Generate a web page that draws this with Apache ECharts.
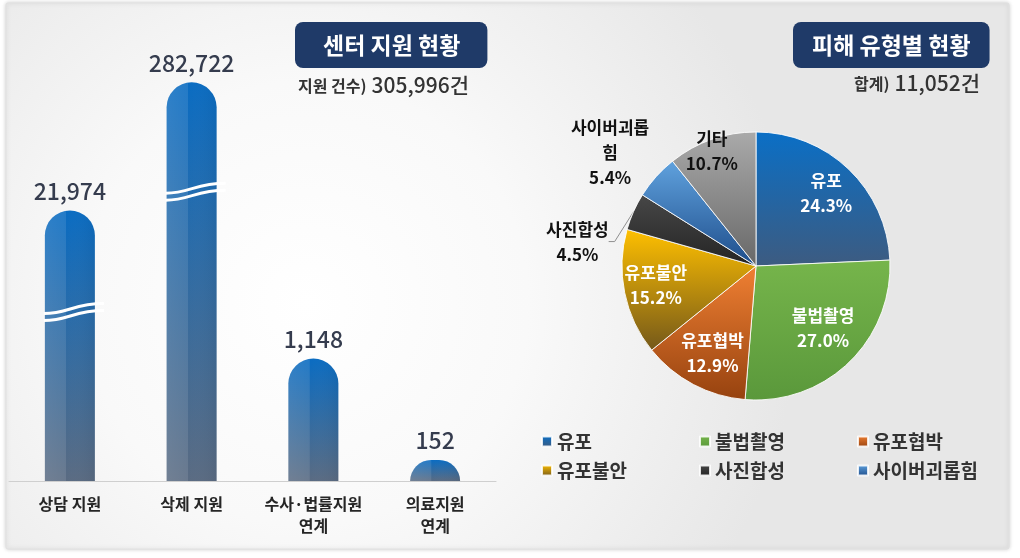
<!DOCTYPE html>
<html><head><meta charset="utf-8">
<script src="https://cdn.jsdelivr.net/npm/echarts@6/dist/echarts.min.js"></script>
<style>html,body{margin:0;padding:0;background:#fff}#c{width:1020px;height:558px}</style>
</head><body><div id="c"></div>
<script>
// ---- data ----
const barCategories = ['상담 지원', '삭제 지원', '수사·법률지원\n연계', '의료지원\n연계'];
const barValues = [21974, 282722, 1148, 152];
const barBreakAt = [2900, 32000, null, null];   // where the axis-break symbol is drawn
const pieNames = ['유포', '불법촬영', '유포협박', '유포불안', '사진합성', '사이버괴롭힘', '기타'];
const pieValues = [24.3, 27.0, 12.9, 15.2, 4.5, 5.4, 10.7];
const legendCols = [['유포', '유포불안'], ['불법촬영', '사진합성'], ['유포협박', '사이버괴롭힘']];
const leftTitle = '센터 지원 현황';
const leftSubLabel = '지원 건수)';
const leftSubValue = '305,996건';
const rightTitle = '피해 유형별 현황';
const rightSubLabel = '합계)';
const rightSubValue = '11,052건';

// ---- styles ----
const FONT = '"Noto Sans CJK KR", "Noto Sans", sans-serif';
const PIE_CX = 756, PIE_CY = 266, PIE_R = 134;
const pieColors = [
  ['#0a6fc6', '#3d5b80'], ['#76b54b', '#5a983b'], ['#f08033', '#96420f'],
  ['#ffc000', '#74581a'], ['#474747', '#242424'], ['#60a2de', '#1d4c8a'], ['#aaaaaa', '#686868']
];
const pieLabelStyle = [
  { position: 'inside', color: '#fff', k: 0.45, dx: 0, dy: 0 },
  { position: 'inside', color: '#fff', k: 0.36, dx: 1, dy: -7 },
  { position: 'inside', color: '#fff', k: 0.45, dx: 4, dy: -3 },
  { position: 'inside', color: '#fff', k: 0.49, dx: 2, dy: -2 },
  { position: 'outside', color: '#111', line: true, wrap: false, dx: -36, dy: 34 },
  { position: 'outside', color: '#111', line: false, wrap: true, dx: -35, dy: -19 },
  { position: 'inside', color: '#111', k: 0.87, dx: -1, dy: 9 }
];
const legendLefts = [541, 699, 857];

function vgrad(a, b) {
  return { type: 'linear', x: 0, y: 0, x2: 0, y2: 1, colorStops: [{ offset: 0, color: a }, { offset: 1, color: b }] };
}

const chart = echarts.init(document.getElementById('c'));

const titleBox = {
  backgroundColor: '#1f3a68', borderRadius: 8,
  textStyle: { color: '#fff', fontSize: 23, fontWeight: 'bold', fontFamily: FONT, lineHeight: 24 }
};
const subRich = {
  a: { fontSize: 16, fontWeight: 'bold', color: '#333', fontFamily: FONT },
  b: { fontSize: 21, fontWeight: 500, color: '#333', fontFamily: FONT }
};

const option = {
  animation: false,
  graphic: [{
    type: 'rect', z: -10, silent: true,
    shape: { x: 6, y: 3, width: 1003, height: 546, r: 2 },
    style: {
      fill: { type: 'radial', x: 0.3, y: 0.55, r: 0.9, colorStops: [
        { offset: 0, color: '#ffffff' }, { offset: 0.45, color: '#f9f9f9' }, { offset: 1, color: '#e7e7e7' }] },
      stroke: '#e0e0e0', lineWidth: 1,
      shadowBlur: 4, shadowColor: 'rgba(0,0,0,0.18)'
    }
  }],
  title: [
    Object.assign({ text: leftTitle, left: 295, top: 22, padding: [11, 27, 11, 28] }, titleBox),
    { text: '{a|' + leftSubLabel + '} {b|' + leftSubValue + '}', left: 298, top: 75, padding: 0, textStyle: { rich: subRich } },
    Object.assign({ text: rightTitle, left: 793, top: 22, padding: [11, 19, 11, 19] }, titleBox),
    { text: '{a|' + rightSubLabel + '} {b|' + rightSubValue + '}', right: 40, top: 73, padding: 0, textStyle: { rich: subRich } }
  ],
  legend: legendCols.map((col, i) => ({
    orient: 'vertical', left: legendLefts[i], top: 432, padding: 0,
    data: col, icon: 'rect', itemWidth: 10, itemHeight: 10, itemGap: 10, selectedMode: false,
    textStyle: { fontSize: 19, fontWeight: 'bold', color: '#333', fontFamily: FONT }
  })),
  grid: { left: 9, right: 524, top: 19, bottom: 77 },
  xAxis: {
    type: 'category', data: barCategories,
    axisLine: { lineStyle: { color: '#cfcfcf', width: 1 } },
    axisTick: { show: false },
    axisLabel: { interval: 0, margin: 12, fontSize: 16, fontWeight: 'bold', color: '#262626', lineHeight: 22, fontFamily: FONT }
  },
  yAxis: {
    type: 'log', logBase: 10, min: 100, max: 1000000, startValue: 100,
    axisLine: { show: false }, axisTick: { show: false }, axisLabel: { show: false }, splitLine: { show: false }
  },
  series: [
    {
      type: 'bar', data: barValues, barWidth: 50, z: 2,
      itemStyle: { color: vgrad('#0a6cc2', '#5a6b82'), borderRadius: [25, 25, 0, 0] },
      label: {
        show: true, position: 'top', distance: 8, fontSize: 23, fontWeight: 500, color: '#353c4e', fontFamily: FONT,
        formatter: p => p.value.toLocaleString('en-US')
      }
    },
    {
      type: 'bar', data: barValues, barWidth: 50, barGap: '-100%', z: 3, silent: true,
      itemStyle: {
        borderRadius: [25, 25, 0, 0],
        color: { type: 'linear', x: 0, y: 0, x2: 1, y2: 0, colorStops: [
          { offset: 0, color: 'rgba(255,255,255,0.14)' }, { offset: 0.42, color: 'rgba(255,255,255,0.10)' },
          { offset: 0.43, color: 'rgba(255,255,255,0)' }, { offset: 1, color: 'rgba(0,0,0,0.05)' }] }
      }
    },
    {
      type: 'custom', silent: true, z: 5,
      data: barBreakAt.map((v, i) => [i, v]).filter(d => d[1] != null),
      renderItem: function (params, api) {
        const p = api.coord([api.value(0), api.value(1)]);
        const x0 = p[0] - 26, x1 = p[0] + 34;
        const mk = oy => ({
          type: 'bezierCurve',
          shape: { x1: x0, y1: p[1] + 5 + oy, cpx1: x0 + 24, cpy1: p[1] + 5 + oy, cpx2: x1 - 30, cpy2: p[1] - 5 + oy, x2: x1, y2: p[1] - 5 + oy },
          style: { stroke: '#ffffff', lineWidth: 3, fill: null }
        });
        return { type: 'group', children: [mk(-3.5), mk(3.5)] };
      }
    },
    {
      type: 'pie', center: [PIE_CX, PIE_CY], radius: [0, PIE_R], startAngle: 90, clockwise: true,
      avoidLabelOverlap: false, emphasis: { scale: false },
      itemStyle: { borderColor: 'rgba(255,255,255,0.85)', borderWidth: 1 },
      label: {
        fontFamily: FONT, fontSize: 17, fontWeight: 'bold', lineHeight: 25,
        formatter: p => p.name + '\n' + p.value.toFixed(1) + '%'
      },
      labelLine: { length: 10, length2: 6, minTurnAngle: 0, lineStyle: { color: '#8f8f8f', width: 1 } },
      labelLayout: function (p) {
        const s = pieLabelStyle[p.dataIndex];
        const r = p.labelRect;
        if (s.k != null) {
          const lx = r.x + r.width / 2, ly = r.y + r.height / 2;
          return { dx: (lx - PIE_CX) * s.k + s.dx, dy: (ly - PIE_CY) * s.k + s.dy };
        }
        return { x: r.x + r.width + s.dx, y: r.y + r.height / 2 + s.dy, align: 'center', verticalAlign: 'middle' };
      },
      data: pieNames.map((n, i) => ({
        name: n, value: pieValues[i],
        itemStyle: { color: vgrad(pieColors[i][0], pieColors[i][1]) },
        label: Object.assign({ position: pieLabelStyle[i].position, color: pieLabelStyle[i].color },
          pieLabelStyle[i].wrap ? { width: 86, overflow: 'break', align: 'center' } : {}),
        labelLine: { show: !!pieLabelStyle[i].line, length: pieLabelStyle[i].line ? 10 : 8, length2: pieLabelStyle[i].line ? 6 : 0 }
      }))
    }
  ]
};
chart.setOption(option);
</script>
</body></html>
